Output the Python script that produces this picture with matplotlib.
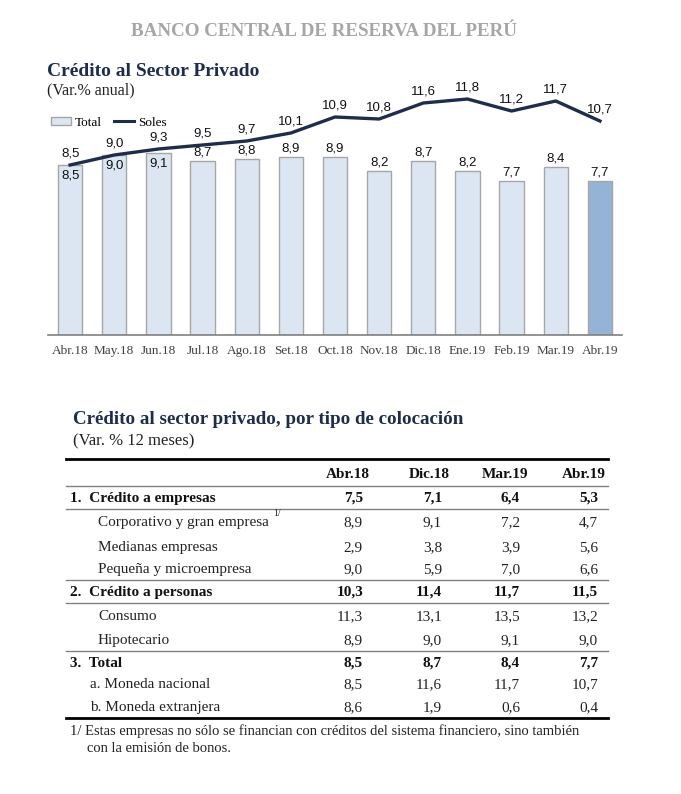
import matplotlib.pyplot as plt
from matplotlib.patches import Patch
from matplotlib.lines import Line2D

months = ['Abr.18', 'May.18', 'Jun.18', 'Jul.18', 'Ago.18', 'Set.18', 'Oct.18',
          'Nov.18', 'Dic.18', 'Ene.19', 'Feb.19', 'Mar.19', 'Abr.19']
total = [8.5, 9.0, 9.1, 8.7, 8.8, 8.9, 8.9, 8.2, 8.7, 8.2, 7.7, 8.4, 7.7]
soles = [8.5, 9.0, 9.3, 9.5, 9.7, 10.1, 10.9, 10.8, 11.6, 11.8, 11.2, 11.7, 10.7]

col_heads = ['Abr.18', 'Dic.18', 'Mar.19', 'Abr.19']
row_names = ['1.  Crédito a empresas', 'Corporativo y gran empresa', 'Medianas empresas',
             'Pequeña y microempresa', '2.  Crédito a personas', 'Consumo', 'Hipotecario',
             '3.  Total', 'a. Moneda nacional', 'b. Moneda extranjera']
row_vals = [[7.5, 7.1, 6.4, 5.3],
            [8.9, 9.1, 7.2, 4.7],
            [2.9, 3.8, 3.9, 5.6],
            [9.0, 5.9, 7.0, 6.6],
            [10.3, 11.4, 11.7, 11.5],
            [11.3, 13.1, 13.5, 13.2],
            [8.9, 9.0, 9.1, 9.0],
            [8.5, 8.7, 8.4, 7.7],
            [8.5, 11.6, 11.7, 10.7],
            [8.6, 1.9, 0.6, 0.4]]
row_bold = [True, False, False, False, True, False, False, True, False, False]
row_indent = [70, 98, 98, 98, 70, 98, 98, 70, 90, 90]
row_y = [497, 521, 546, 568, 591, 615, 639, 662, 683, 706]

navy = '#1f2d4b'
serif = ['Liberation Serif', 'DejaVu Serif']
narrow = ['Liberation Sans Narrow', 'Liberation Sans', 'DejaVu Sans']

def fmt(v):
  return ('%.1f' % v).replace('.', ',')

fig = plt.figure(figsize=(6.81, 7.94), dpi=100)
fig.patch.set_facecolor('white')

# bar + line chart
ax = fig.add_axes([48/681, (794-335)/794, 574/681, 260/794])
x = list(range(len(months)))
colors = ['#dce6f2'] * (len(months) - 1) + ['#95b3d7']
ax.bar(x, total, width=0.55, color=colors, edgecolor='#a6a6a6', linewidth=1, zorder=2)
ax.plot(x, soles, color=navy, linewidth=2.4, zorder=3)
ax.set_xlim(-0.5, len(months) - 0.5)
ax.set_ylim(0, 13)
for s in ['top', 'right', 'left']:
  ax.spines[s].set_visible(False)
ax.spines['bottom'].set_color('#808080')
ax.spines['bottom'].set_linewidth(1.2)
ax.set_yticks([])
ax.set_xticks(x)
ax.set_xticklabels(months, family=serif, fontsize=9.5, color='#404040')
ax.tick_params(axis='x', length=0, pad=7)

for i in x:
  ax.annotate(fmt(soles[i]), (i, soles[i]), xytext=(0, 4), textcoords='offset points',
              ha='center', va='bottom', family=narrow, fontsize=9.5, color='#111111')
  if i < 3:
    ax.annotate(fmt(total[i]), (i, total[i]), xytext=(0, -3), textcoords='offset points',
                ha='center', va='top', family=narrow, fontsize=9.5, color='#111111')
  else:
    ax.annotate(fmt(total[i]), (i, total[i]), xytext=(0, 2), textcoords='offset points',
                ha='center', va='bottom', family=narrow, fontsize=9.5, color='#111111')

handles = [Patch(facecolor='#dce6f2', edgecolor='#a6a6a6', label='Total'),
           Line2D([0], [0], color=navy, linewidth=2.2, label='Soles')]
ax.legend(handles=handles, loc='upper left', bbox_to_anchor=(-0.015, 0.885), ncol=2,
          frameon=False, handlelength=1.5, handleheight=0.6, handletextpad=0.3,
          columnspacing=0.9, prop={'family': serif, 'size': 9.5})

# overlay for texts and table, pixel coordinates
ov = fig.add_axes([0, 0, 1, 1], zorder=5)
ov.set_xlim(0, 681)
ov.set_ylim(794, 0)
ov.axis('off')

ov.text(324, 32, 'BANCO CENTRAL DE RESERVA DEL PERÚ', ha='center', va='center',
        family=serif, fontsize=13.7, fontweight='bold', color='#a6a6a6')
ov.text(47, 72, 'Crédito al Sector Privado', ha='left', va='center',
        family=serif, fontsize=14, fontweight='bold', color=navy)
ov.text(47, 90, '(Var.% anual)', ha='left', va='center',
        family=serif, fontsize=11.5, color='#222222')

ov.text(73, 420, 'Crédito al sector privado, por tipo de colocación', ha='left', va='center',
        family=serif, fontsize=13.7, fontweight='bold', color=navy)
ov.text(73, 441, '(Var. % 12 meses)', ha='left', va='center',
        family=serif, fontsize=12, color='#222222')

col_x = [370, 450, 528, 606]
val_x = [363, 442, 520, 598]
fs = 11

ov.plot([66, 608], [459, 459], color='black', linewidth=2)
for cx, h in zip(col_x, col_heads):
  ov.text(cx, 473, h, ha='right', va='center_baseline', family=serif, fontsize=fs,
          fontweight='bold', color='#111111')
ov.plot([66, 608], [486, 486], color='#808080', linewidth=1)

for name, vals, b, ix, ry in zip(row_names, row_vals, row_bold, row_indent, row_y):
  w = 'bold' if b else 'normal'
  c = '#111111' if b else '#222222'
  ov.text(ix, ry, name, ha='left', va='center_baseline', family=serif, fontsize=fs,
          fontweight=w, color=c)
  for vx, v in zip(val_x, vals):
    ov.text(vx, ry, fmt(v), ha='right', va='center_baseline', family=serif, fontsize=fs,
            fontweight=w, color=c)

ov.text(273, 514, '1/', ha='left', va='center', family=serif, fontsize=7, color='#222222')

for ly in [509, 580, 603, 651]:
  ov.plot([66, 608], [ly, ly], color='#808080', linewidth=1)
ov.plot([66, 608], [718, 718], color='black', linewidth=2)

ov.text(70, 731, '1/ Estas empresas no sólo se financian con créditos del sistema financiero, sino también',
        ha='left', va='center', family=serif, fontsize=10.5, color='#222222')
ov.text(87, 749, 'con la emisión de bonos.', ha='left', va='center',
        family=serif, fontsize=10.5, color='#222222')

fig.savefig('out.png', dpi=100, facecolor='white')
